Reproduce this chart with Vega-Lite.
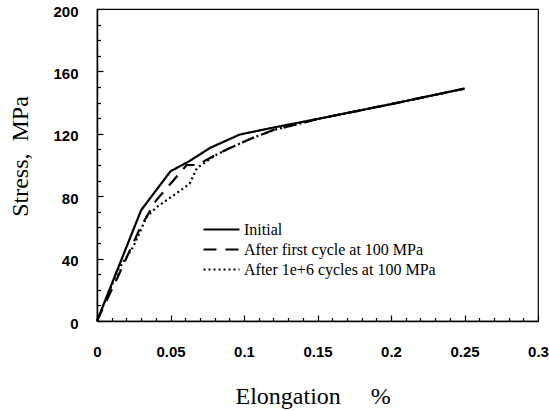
{
  "$schema": "https://vega.github.io/schema/vega-lite/v6.json",
  "width": 441,
  "height": 312,
  "autosize": "none",
  "padding": {"left": 97, "top": 9, "right": 11, "bottom": 89},
  "background": "white",
  "config": {
    "view": {"stroke": "black", "strokeWidth": 1.2},
    "axis": {"grid": false, "domainColor": "black", "domainWidth": 1.5, "tickColor": "black", "tickWidth": 1.2, "labelColor": "black", "titleColor": "black", "labelFont": "Liberation Sans", "labelFontSize": 15, "labelFontWeight": "bold", "titleFont": "Liberation Serif", "titleFontSize": 24, "titleFontWeight": "normal"}
  },
  "data": {
    "values": [
      {"series": "Initial", "e": 0, "s": 0},
      {"series": "Initial", "e": 0.03, "s": 71},
      {"series": "Initial", "e": 0.05, "s": 96},
      {"series": "Initial", "e": 0.062, "s": 102},
      {"series": "Initial", "e": 0.077, "s": 111},
      {"series": "Initial", "e": 0.097, "s": 119.5},
      {"series": "Initial", "e": 0.12, "s": 124},
      {"series": "Initial", "e": 0.15, "s": 129.5},
      {"series": "Initial", "e": 0.2, "s": 139},
      {"series": "Initial", "e": 0.25, "s": 149},
      {"series": "After first cycle at 100 MPa", "e": 0, "s": 0},
      {"series": "After first cycle at 100 MPa", "e": 0.015, "s": 30},
      {"series": "After first cycle at 100 MPa", "e": 0.029, "s": 59},
      {"series": "After first cycle at 100 MPa", "e": 0.04, "s": 77},
      {"series": "After first cycle at 100 MPa", "e": 0.05, "s": 88},
      {"series": "After first cycle at 100 MPa", "e": 0.061, "s": 100},
      {"series": "After first cycle at 100 MPa", "e": 0.068, "s": 100},
      {"series": "After first cycle at 100 MPa", "e": 0.08, "s": 106},
      {"series": "After first cycle at 100 MPa", "e": 0.09, "s": 110.7},
      {"series": "After first cycle at 100 MPa", "e": 0.105, "s": 117},
      {"series": "After first cycle at 100 MPa", "e": 0.12, "s": 122.4},
      {"series": "After first cycle at 100 MPa", "e": 0.14, "s": 127},
      {"series": "After first cycle at 100 MPa", "e": 0.15, "s": 129.5},
      {"series": "After first cycle at 100 MPa", "e": 0.2, "s": 139},
      {"series": "After first cycle at 100 MPa", "e": 0.25, "s": 149},
      {"series": "After 1e+6 cycles at 100 MPa", "e": 0, "s": 0},
      {"series": "After 1e+6 cycles at 100 MPa", "e": 0.0145, "s": 33},
      {"series": "After 1e+6 cycles at 100 MPa", "e": 0.0247, "s": 47.6},
      {"series": "After 1e+6 cycles at 100 MPa", "e": 0.0338, "s": 66.9},
      {"series": "After 1e+6 cycles at 100 MPa", "e": 0.0406, "s": 73},
      {"series": "After 1e+6 cycles at 100 MPa", "e": 0.054, "s": 81.8},
      {"series": "After 1e+6 cycles at 100 MPa", "e": 0.063, "s": 88},
      {"series": "After 1e+6 cycles at 100 MPa", "e": 0.068, "s": 98},
      {"series": "After 1e+6 cycles at 100 MPa", "e": 0.071, "s": 100},
      {"series": "After 1e+6 cycles at 100 MPa", "e": 0.08, "s": 106},
      {"series": "After 1e+6 cycles at 100 MPa", "e": 0.09, "s": 110.7},
      {"series": "After 1e+6 cycles at 100 MPa", "e": 0.105, "s": 117},
      {"series": "After 1e+6 cycles at 100 MPa", "e": 0.12, "s": 122.4},
      {"series": "After 1e+6 cycles at 100 MPa", "e": 0.14, "s": 127},
      {"series": "After 1e+6 cycles at 100 MPa", "e": 0.15, "s": 129.5},
      {"series": "After 1e+6 cycles at 100 MPa", "e": 0.2, "s": 139},
      {"series": "After 1e+6 cycles at 100 MPa", "e": 0.25, "s": 149}
    ]
  },
  "resolve": {"axis": {"x": "independent", "y": "independent"}},
  "layer": [
    {
      "mark": {"type": "line", "color": "black", "strokeWidth": 2.2, "strokeCap": "butt"},
      "encoding": {
        "x": {"field": "e", "type": "quantitative", "scale": {"domain": [0, 0.3], "nice": false, "zero": true},
          "axis": {"orient": "bottom", "values": [0, 0.05, 0.1, 0.15, 0.2, 0.25, 0.3], "format": ".2~f", "tickSize": -6, "labelPadding": 29, "labelFlush": false, "labelOverlap": false,
            "title": "Elongation\u00a0\u00a0\u00a0\u00a0\u00a0%", "titleAlign": "left", "titleAnchor": "start", "titleX": 138, "titleY": 82, "titleBaseline": "alphabetic"}},
        "y": {"field": "s", "type": "quantitative", "scale": {"domain": [0, 200], "nice": false},
          "axis": {"orient": "left", "values": [0, 40, 80, 120, 160, 200], "format": "d", "tickSize": -6, "labelPadding": 25, "labelOffset": 2, "labelFlush": false, "labelOverlap": false,
            "title": "Stress,\u00a0\u00a0MPa", "titleAngle": -90, "titleX": -70, "titleY": 147, "titleAlign": "center", "titleBaseline": "alphabetic"}},
        "strokeDash": {"field": "series", "type": "nominal",
          "scale": {"domain": ["Initial", "After first cycle at 100 MPa", "After 1e+6 cycles at 100 MPa"], "range": [[1, 0], [13, 9], [2, 3]]},
          "legend": {"orient": "none", "legendX": 105, "legendY": 212, "title": null, "padding": 0, "symbolType": "stroke", "symbolSize": 1296, "symbolStrokeWidth": 2.2, "symbolStrokeColor": "black", "clipHeight": 17, "labelFont": "Liberation Serif", "labelFontSize": 16, "labelColor": "black", "labelOffset": 3, "rowPadding": 3, "labelLimit": 400}}
      }
    },
    {
      "mark": {"type": "line", "strokeOpacity": 0},
      "encoding": {
        "x": {"field": "e", "type": "quantitative",
          "axis": {"orient": "bottom", "values": [0.01, 0.02, 0.03, 0.04, 0.06, 0.07, 0.08, 0.09, 0.11, 0.12, 0.13, 0.14, 0.16, 0.17, 0.18, 0.19, 0.21, 0.22, 0.23, 0.24, 0.26, 0.27, 0.28, 0.29], "labels": false, "domain": false, "tickSize": -3.5, "title": null}},
        "y": {"field": "s", "type": "quantitative",
          "axis": {"orient": "left", "values": [10, 20, 30, 50, 60, 70, 90, 100, 110, 130, 140, 150, 170, 180, 190], "labels": false, "domain": false, "tickSize": -3.5, "title": null}},
        "detail": {"field": "series", "type": "nominal"}
      }
    }
  ]
}
